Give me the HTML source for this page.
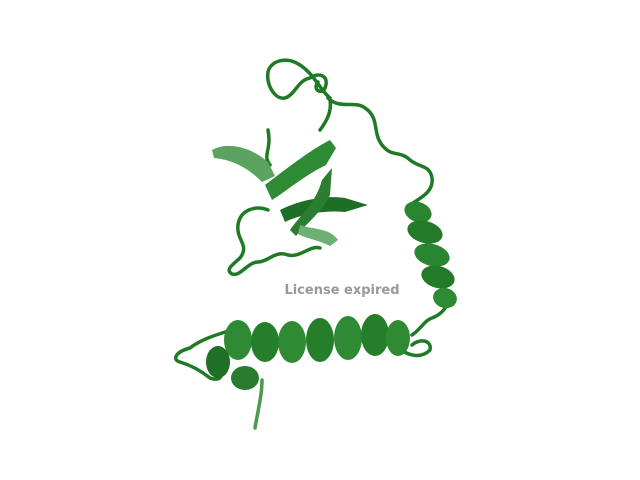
<!DOCTYPE html>
<html>
<head>
<meta charset="utf-8">
<style>
html,body{margin:0;padding:0;background:#fff;}
svg{display:block;}
</style>
</head>
<body>
<svg width="640" height="480" viewBox="0 0 640 480">
  <g fill="none" stroke="#1f7a25" stroke-width="3.5" stroke-linecap="round" stroke-linejoin="round">
    <path d="M330,98 C320,90 315,75 300,65 C285,55 270,62 268,72 C266,85 275,100 285,98 C295,95 298,80 310,78 C318,72 330,75 325,88 C322,95 312,90 318,82"/>
    <path d="M328,98 C340,110 355,100 365,108 C380,118 372,132 382,145 C392,158 400,150 410,160 C420,168 430,165 432,178 C434,192 420,198 410,205"/>
    <path d="M268,210 C255,205 240,210 238,225 C236,240 250,245 240,258 C232,265 225,270 232,274 C240,277 248,262 258,262 C268,262 275,250 288,255 C300,258 310,245 320,248"/>
    <path d="M330,100 C332,112 326,122 320,130 M268,130 C272,150 262,155 270,165"/>
    <path d="M450,300 C445,310 440,315 432,318 C425,320 420,330 412,335"/>
    <path d="M232,330 C215,335 200,340 190,348 C175,352 172,360 180,362 C190,365 200,370 210,378 C220,382 225,375 218,368"/>
    <path d="M262,380 C262,395 258,410 255,428" stroke="#4a9a50"/>
    <path d="M395,345 C405,355 420,360 430,350 C432,340 420,338 412,345"/>
  </g>
  <g>
    <path d="M212,150 C230,140 255,150 268,162 L275,176 L262,182 C250,170 235,160 214,158 Z" fill="#5aa460"/>
    <path d="M265,185 C285,170 310,150 330,140 L336,148 L326,165 C305,175 288,190 272,200 Z" fill="#2e8b34"/>
    <path d="M280,210 C300,200 325,195 345,198 L368,205 L345,212 C322,210 300,215 285,222 Z" fill="#1f6e25"/>
    <path d="M290,230 C300,215 315,205 322,180 L332,168 L330,195 C322,212 305,225 296,236 Z" fill="#2b7d31"/>
    <path d="M300,225 C315,230 330,228 338,240 L330,246 C318,240 305,238 298,234 Z" fill="#6eb073"/>
  </g>
  <g>
    <ellipse cx="418" cy="212" rx="14" ry="10" fill="#2a8530" transform="rotate(20 418 212)"/>
    <ellipse cx="425" cy="232" rx="18" ry="11" fill="#237a29" transform="rotate(15 425 232)"/>
    <ellipse cx="432" cy="255" rx="18" ry="11" fill="#2a8530" transform="rotate(15 432 255)"/>
    <ellipse cx="438" cy="277" rx="17" ry="11" fill="#237a29" transform="rotate(15 438 277)"/>
    <ellipse cx="445" cy="298" rx="12" ry="10" fill="#2e8b34" transform="rotate(15 445 298)"/>
  </g>
  <g>
    <ellipse cx="238" cy="340" rx="14" ry="20" fill="#2e8b34"/>
    <ellipse cx="265" cy="342" rx="14" ry="20" fill="#247e2a"/>
    <ellipse cx="292" cy="342" rx="14" ry="21" fill="#2e8b34"/>
    <ellipse cx="320" cy="340" rx="14" ry="22" fill="#247e2a"/>
    <ellipse cx="348" cy="338" rx="14" ry="22" fill="#2e8b34"/>
    <ellipse cx="375" cy="335" rx="14" ry="21" fill="#247e2a"/>
    <ellipse cx="398" cy="338" rx="12" ry="18" fill="#2e8b34"/>
    <ellipse cx="218" cy="362" rx="12" ry="16" fill="#1f7026"/>
    <ellipse cx="245" cy="378" rx="14" ry="12" fill="#2a7a30"/>
  </g>
  <text x="342" y="294" text-anchor="middle" font-family="DejaVu Sans, Liberation Sans, sans-serif" font-weight="bold" font-size="13" fill="#999999">License expired</text>
</svg>
</body>
</html>
